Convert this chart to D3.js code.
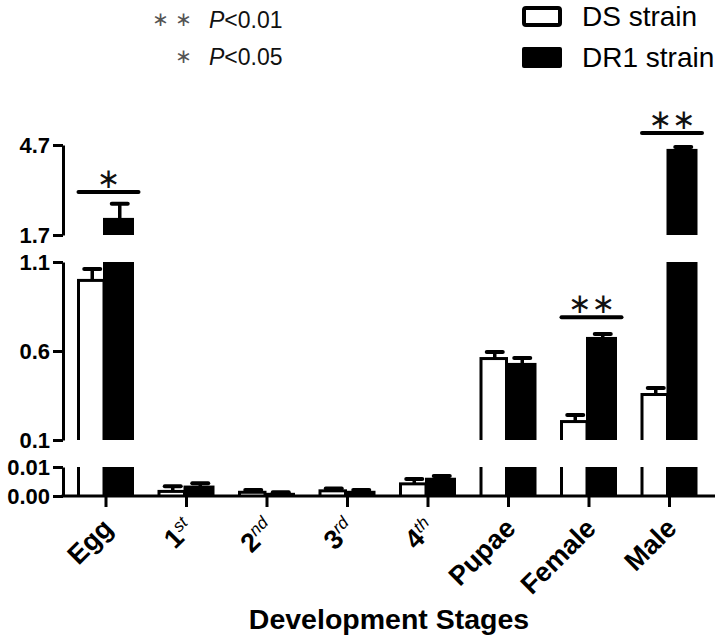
<!DOCTYPE html>
<html><head><meta charset="utf-8">
<script src="https://cdn.jsdelivr.net/npm/d3@7"></script>
<style>body{margin:0;background:#fff} svg{display:block}</style>
</head><body><svg id="c" width="720" height="640"></svg>
<script>
// ---- data ----
const categories = ["Egg","1st","2nd","3rd","4th","Pupae","Female","Male"];
const tickMain   = ["Egg","1","2","3","4","Pupae","Female","Male"];
const tickSup    = ["","st","nd","rd","th","","",""];
const series = ["DS strain","DR1 strain"];
const dsMean  = [1.005, 0.0021, 0.0018, 0.0023, 0.0047, 0.566, 0.212, 0.364];
const dsErr   = [0.056, 0.0013, 0.0003, 0.0003, 0.0012, 0.028, 0.028, 0.028];
const dr1Mean = [2.27, 0.0036, 0.0011, 0.0018, 0.0063, 0.533, 0.679, 4.57];
const dr1Err  = [0.47, 0.0008, 0.0002, 0.0003, 0.0006, 0.028, 0.017, 0.06];
const yTicksTop = [1.7, 4.7];
const yTicksMid = [0.1, 0.6, 1.1];
const yTicksBot = [0.00, 0.01];
const sigCats  = ["Egg","Female","Male"];
const sigText  = ["\u2217","\u2217\u2217","\u2217\u2217"];
const sigLevel = [3.13, 0.79, 5.1];

const FONT = "'Liberation Sans', Arial, sans-serif";
const svg = d3.select("#c");

const x = d3.scalePoint().domain(categories).range([105.5, 669]);
const xs = d3.scaleBand().domain(series).range([-28.5, 28.5]);
const bw = xs.bandwidth();

const segs = [
  {name:"top", scale:d3.scaleLinear().domain([1.7,4.7]).range([235,145]), ticks:yTicksTop, fmt:d3.format(".1f")},
  {name:"mid", scale:d3.scaleLinear().domain([0.1,1.1]).range([440,262]), ticks:yTicksMid, fmt:d3.format(".1f")},
  {name:"bot", scale:d3.scaleLinear().domain([0,0.01]).range([496,467]), ticks:yTicksBot, fmt:d3.format(".2f")}
];

const rows = categories.map((c,i)=>({c, vals:[
  {s:series[0], v:dsMean[i], e:dsErr[i]},
  {s:series[1], v:dr1Mean[i], e:dr1Err[i]}
]}));

const defs = svg.append("defs");
segs.forEach(s=>{
  const [y0,y1] = s.scale.range();
  defs.append("clipPath").attr("id","clip-"+s.name)
    .append("rect").attr("x",60).attr("width",660).attr("y",y1).attr("height",y0-y1);
});

// bars
segs.forEach(s=>{
  const [d0,d1] = s.scale.domain();
  const g = svg.append("g").attr("clip-path","url(#clip-"+s.name+")");
  rows.forEach(r=>{
    r.vals.forEach(b=>{
      if (b.v <= d0) return;
      const yT = b.v > d1 ? s.scale(d1) - 10 : s.scale(b.v);
      const yB = s.scale(d0) + 10;
      const bx = x(r.c) + xs(b.s);
      if (b.s === series[0]) {
        g.append("rect").attr("x", bx+1.5).attr("y", yT+1.5)
          .attr("width", bw-3).attr("height", yB-yT)
          .attr("fill","#fff").attr("stroke","#000").attr("stroke-width",3);
      } else {
        g.append("rect").attr("x", bx-2.5).attr("y", yT)
          .attr("width", bw+2.5).attr("height", yB-yT).attr("fill","#000");
      }
    });
  });
});

// error bars
rows.forEach(r=>{
  r.vals.forEach(b=>{
    const s = segs.find(s=>b.v>=s.scale.domain()[0] && b.v<=s.scale.domain()[1]);
    if(!s) return;
    const cx = x(r.c) + xs(b.s) + bw/2 + (b.s===series[0]? 1 : 0);
    const y0 = s.scale(b.v)+1, y1 = s.scale(b.v+b.e);
    svg.append("line").attr("x1",cx).attr("x2",cx).attr("y1",y0).attr("y2",y1)
      .attr("stroke","#000").attr("stroke-width",3.5);
    svg.append("line").attr("x1",cx-8).attr("x2",cx+8).attr("y1",y1).attr("y2",y1)
      .attr("stroke","#000").attr("stroke-width",4).attr("stroke-linecap","round");
  });
});

// y axes
segs.forEach(s=>{
  const g = svg.append("g").attr("transform","translate(63,0)")
    .call(d3.axisLeft(s.scale).tickValues(s.ticks).tickFormat(s.fmt)
      .tickSize(10).tickSizeOuter(0).tickPadding(3));
  g.selectAll("path,line").attr("stroke","#000").attr("stroke-width",3);
  g.selectAll("text").attr("font-family",FONT).attr("font-size",22)
    .attr("font-weight","bold").attr("fill","#000");
});

// x axis
const yBase = segs[2].scale(0);
const gx = svg.append("g").attr("transform",`translate(0,${yBase})`)
  .call(d3.axisBottom(x).tickSize(11).tickFormat(""));
gx.select(".domain").remove();
gx.selectAll("line").attr("stroke","#000").attr("stroke-width",3);
svg.append("line").attr("x1",61.5).attr("x2",715).attr("y1",yBase).attr("y2",yBase)
  .attr("stroke","#000").attr("stroke-width",3);

categories.forEach((c,i)=>{
  const t = svg.append("text")
    .attr("transform",`translate(${x(c)+9},${yBase+34}) rotate(-45)`)
    .attr("text-anchor","end").attr("font-family",FONT).attr("font-size",27)
    .attr("font-weight","bold").attr("fill","#000");
  t.append("tspan").text(tickMain[i]);
  if (tickSup[i]) t.append("tspan").attr("baseline-shift","super")
    .attr("font-size",17).attr("font-weight","normal").attr("font-style","italic").text(tickSup[i]);
});

svg.append("text").attr("x",389).attr("y",629).attr("text-anchor","middle")
  .attr("font-family",FONT).attr("font-size",28.5).attr("font-weight","bold")
  .text("Development Stages");

// significance
sigCats.forEach((c,i)=>{
  const lv = sigLevel[i];
  const s = lv >= 1.7 ? segs[0] : (lv >= 0.1 ? segs[1] : segs[2]);
  const yy = s.scale(lv);
  const cx = x(c);
  svg.append("line").attr("x1",cx-27).attr("x2",cx+33).attr("y1",yy).attr("y2",yy)
    .attr("stroke","#000").attr("stroke-width",4).attr("stroke-linecap","round");
  svg.append("text").attr("x",cx+3).attr("y",yy-4).attr("text-anchor","middle")
    .attr("font-family","'DejaVu Sans', sans-serif").attr("font-size",28).attr("fill","#111")
    .text(sigText[i]);
});

// p-value key
const pKey = [{stars:"\u2217 \u2217", p:"<0.01", y:28},{stars:"\u2217", p:"<0.05", y:65}];
pKey.forEach(k=>{
  svg.append("text").attr("x",192).attr("y",k.y-2).attr("text-anchor","end")
    .attr("font-family","'DejaVu Sans', sans-serif").attr("font-size",20).attr("fill","#555")
    .text(k.stars);
  const t = svg.append("text").attr("x",209).attr("y",k.y)
    .attr("font-family",FONT).attr("font-size",23).attr("fill","#111");
  t.append("tspan").attr("font-style","italic").text("P");
  t.append("tspan").text(k.p);
});

// legend
const leg = [{s:series[0], y:6},{s:series[1], y:47}];
leg.forEach((l,i)=>{
  if (i===0) svg.append("rect").attr("x",524).attr("y",l.y+2).attr("width",36).attr("height",17)
    .attr("rx",2).attr("fill","#fff").attr("stroke","#000").attr("stroke-width",4);
  else svg.append("rect").attr("x",522).attr("y",l.y).attr("width",40).attr("height",21)
    .attr("rx",2).attr("fill","#000");
  svg.append("text").attr("x",582).attr("y",l.y+20).attr("font-family",FONT)
    .attr("font-size",28).attr("fill","#000").text(l.s);
});
</script></body></html>
